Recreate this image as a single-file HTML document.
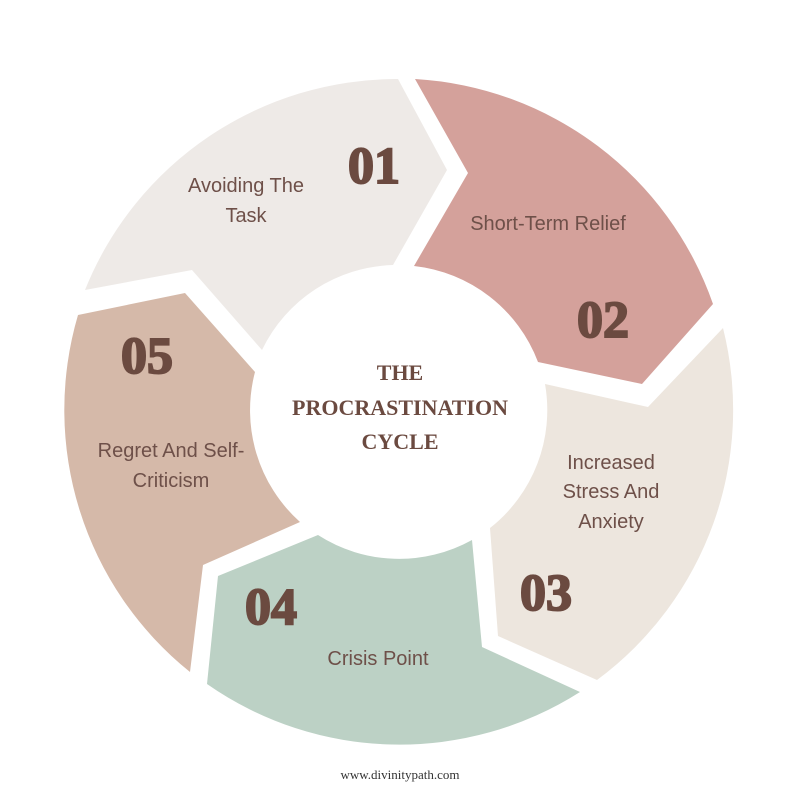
<!DOCTYPE html>
<html><head><meta charset="utf-8"><style>
html,body{margin:0;padding:0;background:#fff;}
svg{display:block}
.t{font-family:"Liberation Sans",sans-serif;font-size:20px;fill:#6e5049;text-anchor:middle}
.n{font-family:"Liberation Serif",serif;font-weight:bold;font-size:52px;fill:#6b4a40;stroke:#6b4a40;stroke-width:2px;letter-spacing:0px}
.c{font-family:"Liberation Serif",serif;font-weight:bold;font-size:22px;fill:#6b4a40;text-anchor:middle}
</style></head><body>
<svg width="800" height="800" viewBox="0 0 800 800">
<path d="M85,290 L192,270 L262,350 A150,150 0 0 1 393,265 L447,170 L398,79 A336,336 0 0 0 85,290 Z" fill="#eeeae7"/>
<path d="M415,79 L468,173 L414,266 A150,150 0 0 1 538,362 L642,384 L713,304 A336,336 0 0 0 415,79 Z" fill="#d4a19b"/>
<path d="M723,328 L648,407 L545,384 A150,150 0 0 1 490,528 L498,636 L597,680 A336,336 0 0 0 723,328 Z" fill="#ede6de"/>
<path d="M580,692 L482,647 L472,540 A150,150 0 0 1 318,535 L218,576 L207,684 A336,336 0 0 0 580,692 Z" fill="#bcd1c5"/>
<path d="M190,672 L203,565 L300,522 A150,150 0 0 1 255,372 L185,293 L78,315 A336,336 0 0 0 190,672 Z" fill="#d5b9a9"/>

<text class="t" x="246" y="192">Avoiding The</text>
<text class="t" x="246" y="222">Task</text>
<text class="t" x="548" y="230">Short-Term Relief</text>
<text class="t" x="611" y="469">Increased</text>
<text class="t" x="611" y="498">Stress And</text>
<text class="t" x="611" y="528">Anxiety</text>
<text class="t" x="378" y="665">Crisis Point</text>
<text class="t" x="171" y="457">Regret And Self-</text>
<text class="t" x="171" y="487">Criticism</text>

<text class="n" x="348" y="183">01</text>
<text class="n" x="577" y="337">02</text>
<text class="n" x="520" y="610">03</text>
<text class="n" x="245" y="624">04</text>
<text class="n" x="121" y="373">05</text>

<text class="c" x="400" y="380">THE</text>
<text class="c" x="400" y="415">PROCRASTINATION</text>
<text class="c" x="400" y="449">CYCLE</text>

<text x="400" y="779" font-family="Liberation Serif,serif" font-size="13" fill="#333" text-anchor="middle">www.divinitypath.com</text>
</svg>
</body></html>
